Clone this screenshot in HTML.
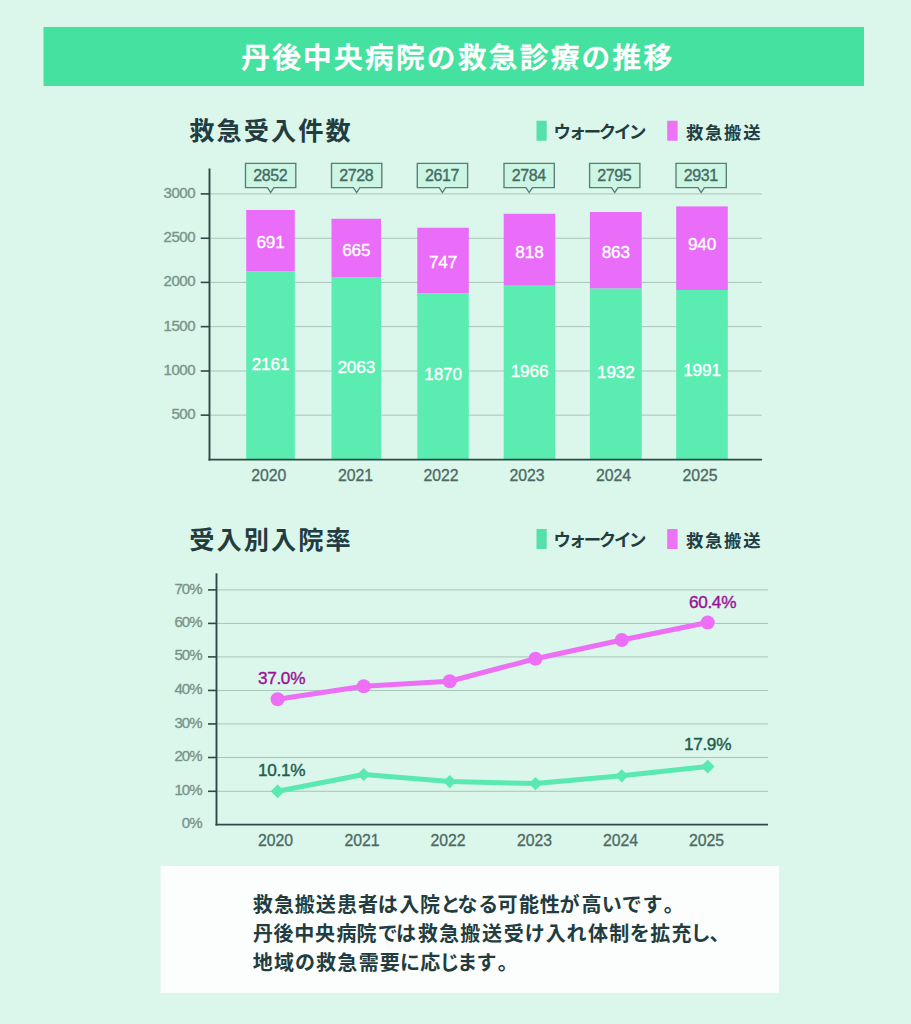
<!DOCTYPE html>
<html lang="ja"><head><meta charset="utf-8"><title>丹後中央病院の救急診療の推移</title>
<style>
html,body{margin:0;padding:0;background:#dbf6ea;}
body{width:911px;height:1024px;overflow:hidden;position:relative;}
svg{position:absolute;left:0;top:0;display:block;}
text{font-family:"Liberation Sans","Noto Sans CJK JP",sans-serif;}
.num{font-family:"Liberation Sans",sans-serif;}
</style></head><body>
<svg width="911" height="1024" viewBox="0 0 911 1024">
<rect x="0" y="0" width="911" height="1024" fill="#dbf6ea"/>
<rect x="43.5" y="27" width="820.5" height="59" fill="#45e1a0"/>
<text x="457.8" y="68" text-anchor="middle" font-size="28.6" font-weight="500" fill="#ffffff" stroke="#ffffff" stroke-width="0.65" letter-spacing="2.35">丹後中央病院の救急診療の推移</text>
<text x="189.2" y="139.7" font-size="25.2" font-weight="700" fill="#223c40" letter-spacing="2.1">救急受入件数</text>
<rect x="536.5" y="120.75" width="10.2" height="20" fill="#56e0ac"/>
<text x="553.6" y="137.95" font-size="17.4" font-weight="700" fill="#223c40" letter-spacing="-2.3">ウォークイン</text>
<rect x="667.2" y="120.75" width="10.4" height="20" fill="#ec74f4"/>
<text x="685.9" y="138.65" font-size="17.3" font-weight="700" fill="#223c40" letter-spacing="1.8">救急搬送</text>
<line x1="210" y1="193.90" x2="762" y2="193.90" stroke="#a9c5b9" stroke-width="1"/>
<line x1="210" y1="238.25" x2="762" y2="238.25" stroke="#a9c5b9" stroke-width="1"/>
<line x1="210" y1="282.40" x2="762" y2="282.40" stroke="#a9c5b9" stroke-width="1"/>
<line x1="210" y1="326.65" x2="762" y2="326.65" stroke="#a9c5b9" stroke-width="1"/>
<line x1="210" y1="371.00" x2="762" y2="371.00" stroke="#a9c5b9" stroke-width="1"/>
<line x1="210" y1="415.15" x2="762" y2="415.15" stroke="#a9c5b9" stroke-width="1"/>
<rect x="246.20" y="210.00" width="48.60" height="61.50" fill="#ea6df9"/>
<rect x="246.20" y="271.50" width="48.60" height="187.50" fill="#5becb2"/>
<rect x="331.50" y="218.75" width="49.50" height="58.85" fill="#ea6df9"/>
<rect x="331.50" y="277.60" width="49.50" height="181.40" fill="#5becb2"/>
<rect x="417.30" y="227.75" width="51.50" height="65.50" fill="#ea6df9"/>
<rect x="417.30" y="293.25" width="51.50" height="165.75" fill="#5becb2"/>
<rect x="503.70" y="213.75" width="51.55" height="72.00" fill="#ea6df9"/>
<rect x="503.70" y="285.75" width="51.55" height="173.25" fill="#5becb2"/>
<rect x="589.90" y="212.00" width="51.80" height="76.60" fill="#ea6df9"/>
<rect x="589.90" y="288.60" width="51.80" height="170.40" fill="#5becb2"/>
<rect x="676.20" y="206.40" width="51.60" height="83.60" fill="#ea6df9"/>
<rect x="676.20" y="290.00" width="51.60" height="169.00" fill="#5becb2"/>
<line x1="209.5" y1="168.5" x2="209.5" y2="460.5" stroke="#2c4a48" stroke-width="1.9"/>
<line x1="208.5" y1="459.6" x2="762" y2="459.6" stroke="#2c4a48" stroke-width="1.9"/>
<line x1="200.7" y1="193.90" x2="209.5" y2="193.90" stroke="#2c4a48" stroke-width="1.6"/>
<text class="num" x="195.1" y="198.00" text-anchor="end" font-size="15" fill="#78948a" stroke="#78948a" stroke-width="0.35" letter-spacing="-0.45">3000</text>
<line x1="200.7" y1="238.25" x2="209.5" y2="238.25" stroke="#2c4a48" stroke-width="1.6"/>
<text class="num" x="195.1" y="242.00" text-anchor="end" font-size="15" fill="#78948a" stroke="#78948a" stroke-width="0.35" letter-spacing="-0.45">2500</text>
<line x1="200.7" y1="282.40" x2="209.5" y2="282.40" stroke="#2c4a48" stroke-width="1.6"/>
<text class="num" x="195.1" y="286.00" text-anchor="end" font-size="15" fill="#78948a" stroke="#78948a" stroke-width="0.35" letter-spacing="-0.45">2000</text>
<line x1="200.7" y1="326.65" x2="209.5" y2="326.65" stroke="#2c4a48" stroke-width="1.6"/>
<text class="num" x="195.1" y="331.00" text-anchor="end" font-size="15" fill="#78948a" stroke="#78948a" stroke-width="0.35" letter-spacing="-0.45">1500</text>
<line x1="200.7" y1="371.00" x2="209.5" y2="371.00" stroke="#2c4a48" stroke-width="1.6"/>
<text class="num" x="195.1" y="375.00" text-anchor="end" font-size="15" fill="#78948a" stroke="#78948a" stroke-width="0.35" letter-spacing="-0.45">1000</text>
<line x1="200.7" y1="415.15" x2="209.5" y2="415.15" stroke="#2c4a48" stroke-width="1.6"/>
<text class="num" x="195.1" y="419.00" text-anchor="end" font-size="15" fill="#78948a" stroke="#78948a" stroke-width="0.35" letter-spacing="-0.45">500</text>
<text class="num" x="270.50" y="248.10" text-anchor="middle" font-size="17.2" fill="#ffffff" stroke="#ffffff" stroke-width="0.35" letter-spacing="-0.15">691</text>
<text class="num" x="270.50" y="369.60" text-anchor="middle" font-size="17.2" fill="#ffffff" stroke="#ffffff" stroke-width="0.35" letter-spacing="-0.15">2161</text>
<path d="M245.50 163.40 H295.80 V187.60 H273.85 L270.65 192.50 L267.45 187.60 H245.50 Z" fill="#ccf5e4" stroke="#557f74" stroke-width="1.35" stroke-linejoin="miter"/>
<text class="num" x="270.25" y="180.80" text-anchor="middle" font-size="16" fill="#436b62" stroke="#436b62" stroke-width="0.35" letter-spacing="-0.4">2852</text>
<text class="num" x="356.25" y="256.10" text-anchor="middle" font-size="17.2" fill="#ffffff" stroke="#ffffff" stroke-width="0.35" letter-spacing="-0.15">665</text>
<text class="num" x="356.25" y="373.10" text-anchor="middle" font-size="17.2" fill="#ffffff" stroke="#ffffff" stroke-width="0.35" letter-spacing="-0.15">2063</text>
<path d="M331.50 163.40 H381.80 V187.60 H359.85 L356.65 192.50 L353.45 187.60 H331.50 Z" fill="#ccf5e4" stroke="#557f74" stroke-width="1.35" stroke-linejoin="miter"/>
<text class="num" x="356.25" y="180.80" text-anchor="middle" font-size="16" fill="#436b62" stroke="#436b62" stroke-width="0.35" letter-spacing="-0.4">2728</text>
<text class="num" x="443.05" y="268.10" text-anchor="middle" font-size="17.2" fill="#ffffff" stroke="#ffffff" stroke-width="0.35" letter-spacing="-0.15">747</text>
<text class="num" x="443.05" y="380.10" text-anchor="middle" font-size="17.2" fill="#ffffff" stroke="#ffffff" stroke-width="0.35" letter-spacing="-0.15">1870</text>
<path d="M417.30 163.40 H467.60 V187.60 H445.65 L442.45 192.50 L439.25 187.60 H417.30 Z" fill="#ccf5e4" stroke="#557f74" stroke-width="1.35" stroke-linejoin="miter"/>
<text class="num" x="442.05" y="180.80" text-anchor="middle" font-size="16" fill="#436b62" stroke="#436b62" stroke-width="0.35" letter-spacing="-0.4">2617</text>
<text class="num" x="529.48" y="258.10" text-anchor="middle" font-size="17.2" fill="#ffffff" stroke="#ffffff" stroke-width="0.35" letter-spacing="-0.15">818</text>
<text class="num" x="529.48" y="377.35" text-anchor="middle" font-size="17.2" fill="#ffffff" stroke="#ffffff" stroke-width="0.35" letter-spacing="-0.15">1966</text>
<path d="M504.00 163.40 H554.30 V187.60 H532.35 L529.15 192.50 L525.95 187.60 H504.00 Z" fill="#ccf5e4" stroke="#557f74" stroke-width="1.35" stroke-linejoin="miter"/>
<text class="num" x="528.75" y="180.80" text-anchor="middle" font-size="16" fill="#436b62" stroke="#436b62" stroke-width="0.35" letter-spacing="-0.4">2784</text>
<text class="num" x="615.80" y="258.10" text-anchor="middle" font-size="17.2" fill="#ffffff" stroke="#ffffff" stroke-width="0.35" letter-spacing="-0.15">863</text>
<text class="num" x="615.80" y="378.10" text-anchor="middle" font-size="17.2" fill="#ffffff" stroke="#ffffff" stroke-width="0.35" letter-spacing="-0.15">1932</text>
<path d="M589.60 163.40 H639.90 V187.60 H617.95 L614.75 192.50 L611.55 187.60 H589.60 Z" fill="#ccf5e4" stroke="#557f74" stroke-width="1.35" stroke-linejoin="miter"/>
<text class="num" x="614.35" y="180.80" text-anchor="middle" font-size="16" fill="#436b62" stroke="#436b62" stroke-width="0.35" letter-spacing="-0.4">2795</text>
<text class="num" x="702.00" y="250.10" text-anchor="middle" font-size="17.2" fill="#ffffff" stroke="#ffffff" stroke-width="0.35" letter-spacing="-0.15">940</text>
<text class="num" x="702.00" y="375.85" text-anchor="middle" font-size="17.2" fill="#ffffff" stroke="#ffffff" stroke-width="0.35" letter-spacing="-0.15">1991</text>
<path d="M676.00 163.40 H726.30 V187.60 H704.35 L701.15 192.50 L697.95 187.60 H676.00 Z" fill="#ccf5e4" stroke="#557f74" stroke-width="1.35" stroke-linejoin="miter"/>
<text class="num" x="700.75" y="180.80" text-anchor="middle" font-size="16" fill="#436b62" stroke="#436b62" stroke-width="0.35" letter-spacing="-0.4">2931</text>
<text class="num" x="268.80" y="480.6" text-anchor="middle" font-size="15.8" fill="#4b6a64" stroke="#4b6a64" stroke-width="0.3">2020</text>
<text class="num" x="355.50" y="480.6" text-anchor="middle" font-size="15.8" fill="#4b6a64" stroke="#4b6a64" stroke-width="0.3">2021</text>
<text class="num" x="441.00" y="480.6" text-anchor="middle" font-size="15.8" fill="#4b6a64" stroke="#4b6a64" stroke-width="0.3">2022</text>
<text class="num" x="527.00" y="480.6" text-anchor="middle" font-size="15.8" fill="#4b6a64" stroke="#4b6a64" stroke-width="0.3">2023</text>
<text class="num" x="613.50" y="480.6" text-anchor="middle" font-size="15.8" fill="#4b6a64" stroke="#4b6a64" stroke-width="0.3">2024</text>
<text class="num" x="700.00" y="480.6" text-anchor="middle" font-size="15.8" fill="#4b6a64" stroke="#4b6a64" stroke-width="0.3">2025</text>
<text x="189.3" y="549.0" font-size="25.2" font-weight="700" fill="#223c40" letter-spacing="2.05">受入別入院率</text>
<rect x="536.5" y="529.00" width="10.2" height="20" fill="#56e0ac"/>
<text x="553.6" y="546.20" font-size="17.4" font-weight="700" fill="#223c40" letter-spacing="-2.3">ウォークイン</text>
<rect x="667.2" y="529.00" width="10.4" height="20" fill="#ec74f4"/>
<text x="685.9" y="546.90" font-size="17.3" font-weight="700" fill="#223c40" letter-spacing="1.8">救急搬送</text>
<line x1="217" y1="589.90" x2="768" y2="589.90" stroke="#a9c5b9" stroke-width="1"/>
<line x1="217" y1="623.40" x2="768" y2="623.40" stroke="#a9c5b9" stroke-width="1"/>
<line x1="217" y1="656.90" x2="768" y2="656.90" stroke="#a9c5b9" stroke-width="1"/>
<line x1="217" y1="690.45" x2="768" y2="690.45" stroke="#a9c5b9" stroke-width="1"/>
<line x1="217" y1="723.95" x2="768" y2="723.95" stroke="#a9c5b9" stroke-width="1"/>
<line x1="217" y1="757.50" x2="768" y2="757.50" stroke="#a9c5b9" stroke-width="1"/>
<line x1="217" y1="791.30" x2="768" y2="791.30" stroke="#a9c5b9" stroke-width="1"/>
<polyline fill="none" stroke="#5ae9b0" stroke-width="5" stroke-linejoin="round" points="277.60,791.30 363.75,774.50 449.75,781.60 535.50,783.60 621.75,775.80 707.70,766.60"/>
<path d="M270.70 791.30 L277.60 784.40 L284.50 791.30 L277.60 798.20 Z" fill="#5ae9b0"/>
<path d="M357.15 774.50 L363.75 767.90 L370.35 774.50 L363.75 781.10 Z" fill="#5ae9b0"/>
<path d="M443.15 781.60 L449.75 775.00 L456.35 781.60 L449.75 788.20 Z" fill="#5ae9b0"/>
<path d="M528.90 783.60 L535.50 777.00 L542.10 783.60 L535.50 790.20 Z" fill="#5ae9b0"/>
<path d="M615.15 775.80 L621.75 769.20 L628.35 775.80 L621.75 782.40 Z" fill="#5ae9b0"/>
<path d="M700.80 766.60 L707.70 759.70 L714.60 766.60 L707.70 773.50 Z" fill="#5ae9b0"/>
<polyline fill="none" stroke="#ec6ff5" stroke-width="5" stroke-linejoin="round" points="277.60,699.25 363.75,686.25 449.75,681.25 535.50,658.75 621.75,640.00 707.70,622.50"/>
<circle cx="277.60" cy="699.25" r="7" fill="#ec6ff5"/>
<circle cx="363.75" cy="686.25" r="7" fill="#ec6ff5"/>
<circle cx="449.75" cy="681.25" r="7" fill="#ec6ff5"/>
<circle cx="535.50" cy="658.75" r="7" fill="#ec6ff5"/>
<circle cx="621.75" cy="640.00" r="7" fill="#ec6ff5"/>
<circle cx="707.70" cy="622.50" r="7" fill="#ec6ff5"/>
<line x1="216.5" y1="573.3" x2="216.5" y2="825.5" stroke="#2c4a48" stroke-width="1.9"/>
<line x1="215.5" y1="824.6" x2="768" y2="824.6" stroke="#2c4a48" stroke-width="1.9"/>
<line x1="208" y1="589.90" x2="216.5" y2="589.90" stroke="#2c4a48" stroke-width="1.6"/>
<line x1="208" y1="623.40" x2="216.5" y2="623.40" stroke="#2c4a48" stroke-width="1.6"/>
<line x1="208" y1="656.90" x2="216.5" y2="656.90" stroke="#2c4a48" stroke-width="1.6"/>
<line x1="208" y1="690.45" x2="216.5" y2="690.45" stroke="#2c4a48" stroke-width="1.6"/>
<line x1="208" y1="723.95" x2="216.5" y2="723.95" stroke="#2c4a48" stroke-width="1.6"/>
<line x1="208" y1="757.50" x2="216.5" y2="757.50" stroke="#2c4a48" stroke-width="1.6"/>
<line x1="208" y1="791.30" x2="216.5" y2="791.30" stroke="#2c4a48" stroke-width="1.6"/>
<text class="num" x="201.6" y="594.00" text-anchor="end" font-size="15" fill="#78948a" stroke="#78948a" stroke-width="0.35" letter-spacing="-0.95">70%</text>
<text class="num" x="201.6" y="627.00" text-anchor="end" font-size="15" fill="#78948a" stroke="#78948a" stroke-width="0.35" letter-spacing="-0.95">60%</text>
<text class="num" x="201.6" y="660.00" text-anchor="end" font-size="15" fill="#78948a" stroke="#78948a" stroke-width="0.35" letter-spacing="-0.95">50%</text>
<text class="num" x="201.6" y="694.00" text-anchor="end" font-size="15" fill="#78948a" stroke="#78948a" stroke-width="0.35" letter-spacing="-0.95">40%</text>
<text class="num" x="201.6" y="728.00" text-anchor="end" font-size="15" fill="#78948a" stroke="#78948a" stroke-width="0.35" letter-spacing="-0.95">30%</text>
<text class="num" x="201.6" y="761.00" text-anchor="end" font-size="15" fill="#78948a" stroke="#78948a" stroke-width="0.35" letter-spacing="-0.95">20%</text>
<text class="num" x="201.6" y="795.00" text-anchor="end" font-size="15" fill="#78948a" stroke="#78948a" stroke-width="0.35" letter-spacing="-0.95">10%</text>
<text class="num" x="201.6" y="828.00" text-anchor="end" font-size="15" fill="#78948a" stroke="#78948a" stroke-width="0.35" letter-spacing="-0.95">0%</text>
<text class="num" x="281.50" y="684.30" text-anchor="middle" font-size="17.2" fill="#9c1199" stroke="#9c1199" stroke-width="0.4" letter-spacing="-0.3">37.0%</text>
<text class="num" x="712.50" y="608.00" text-anchor="middle" font-size="17.2" fill="#9c1199" stroke="#9c1199" stroke-width="0.4" letter-spacing="-0.3">60.4%</text>
<text class="num" x="281.70" y="776.30" text-anchor="middle" font-size="17.2" fill="#1f5c4e" stroke="#1f5c4e" stroke-width="0.4" letter-spacing="-0.3">10.1%</text>
<text class="num" x="707.50" y="750.00" text-anchor="middle" font-size="17.2" fill="#1f5c4e" stroke="#1f5c4e" stroke-width="0.4" letter-spacing="-0.3">17.9%</text>
<text class="num" x="275.60" y="845.6" text-anchor="middle" font-size="15.8" fill="#4b6a64" stroke="#4b6a64" stroke-width="0.3">2020</text>
<text class="num" x="362.00" y="845.6" text-anchor="middle" font-size="15.8" fill="#4b6a64" stroke="#4b6a64" stroke-width="0.3">2021</text>
<text class="num" x="448.00" y="845.6" text-anchor="middle" font-size="15.8" fill="#4b6a64" stroke="#4b6a64" stroke-width="0.3">2022</text>
<text class="num" x="534.50" y="845.6" text-anchor="middle" font-size="15.8" fill="#4b6a64" stroke="#4b6a64" stroke-width="0.3">2023</text>
<text class="num" x="620.50" y="845.6" text-anchor="middle" font-size="15.8" fill="#4b6a64" stroke="#4b6a64" stroke-width="0.3">2024</text>
<text class="num" x="706.50" y="845.6" text-anchor="middle" font-size="15.8" fill="#4b6a64" stroke="#4b6a64" stroke-width="0.3">2025</text>
<rect x="160.6" y="865.9" width="618.4" height="127" fill="#fcfefd"/>
<text x="252.8 273.9 294.7 315.8 337.0 358.1 377.7 399.3 420.1 440.6 457.4 478.3 497.4 518.9 539.8 559.6 581.4 601.7 621.8 642.4 663.7" y="912.10" font-size="20" font-weight="700" fill="#223c40">救急搬送患者は入院となる可能性が高いです。</text>
<text x="252.9 273.5 294.3 315.1 336.4 356.4 377.7 396.0 417.7 439.0 460.3 482.0 503.8 524.8 545.7 566.4 588.0 609.2 629.8 650.2 671.6 690.5 709.5" y="941.10" font-size="20" font-weight="700" fill="#223c40">丹後中央病院では救急搬送受け入れ体制を拡充し、</text>
<text x="252.8 274.0 295.1 316.1 337.3 358.7 379.8 400.1 420.2 439.5 457.3 476.4 497.7" y="970.10" font-size="20" font-weight="700" fill="#223c40">地域の救急需要に応じます。</text>
</svg></body></html>
